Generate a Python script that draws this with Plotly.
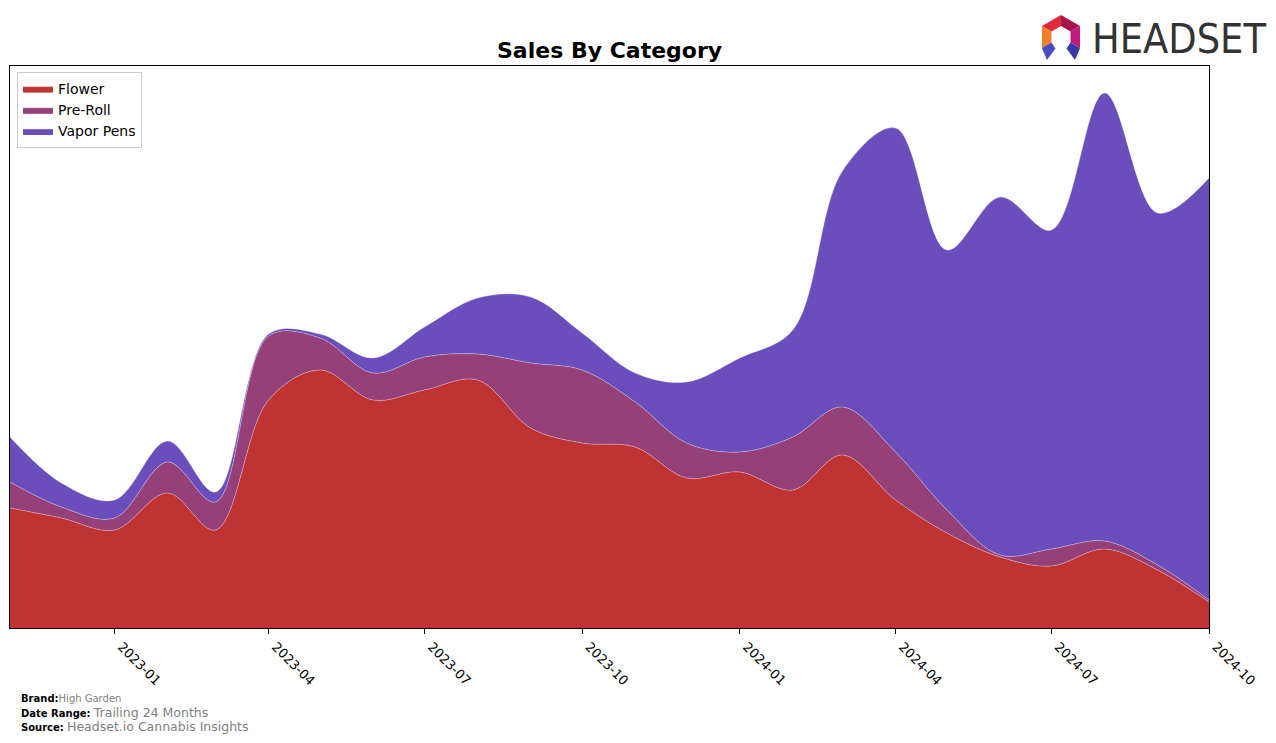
import plotly.graph_objects as go
import math

months = ["2022-11-01", "2022-12-01", "2023-01-01", "2023-02-01", "2023-03-01", "2023-04-01",
          "2023-05-01", "2023-06-01", "2023-07-01", "2023-08-01", "2023-09-01", "2023-10-01",
          "2023-11-01", "2023-12-01", "2024-01-01", "2024-02-01", "2024-03-01", "2024-04-01",
          "2024-05-01", "2024-06-01", "2024-07-01", "2024-08-01", "2024-09-01", "2024-10-01"]

flower = [120, 110, 98, 135, 98, 228, 258, 228, 238, 248, 200, 185,
          181, 150, 156, 138, 173, 128, 95, 71, 62, 79, 58, 26]
pre_roll = [26, 11, 12, 31, 28, 64, 32, 27, 33, 26, 65, 73,
            45, 35, 20, 53, 48, 48, 23, 2, 17, 8, 5, 2]
vapor_pens = [45, 24, 18, 21, 10, 2, 4, 15, 30, 56, 66, 37,
              29, 61, 94, 107, 236, 324, 260, 358, 319, 448, 352, 422]

tick_vals = ["2023-01-01", "2023-04-01", "2023-07-01", "2023-10-01",
             "2024-01-01", "2024-04-01", "2024-07-01", "2024-10-01"]
tick_text = ["2023-01", "2023-04", "2023-07", "2023-10",
             "2024-01", "2024-04", "2024-07", "2024-10"]

series = [("Flower", flower, "#C03333"),
          ("Pre-Roll", pre_roll, "#954078"),
          ("Vapor Pens", vapor_pens, "#6A4FBC")]

fig = go.Figure()
for name, vals, col in series:
    fig.add_trace(go.Scatter(
        x=months, y=vals, name=name, mode="lines", stackgroup="one",
        line=dict(shape="spline", smoothing=1.0, width=0.7, color="rgba(255,255,255,0.45)"),
        fillcolor=col,
    ))

W, H = 1276, 743
L, R, T, B = 10, 1209, 66, 628


def px(x, y):
    return (x - L) / (R - L), (B - y) / (B - T)


def poly(points, color):
    p = [px(a, b) for a, b in points]
    d = "M " + " L ".join(f"{a:.5f},{b:.5f}" for a, b in p) + " Z"
    return dict(type="path", xref="paper", yref="paper", path=d,
                fillcolor=color, line=dict(width=0), layer="above")


cx, cy, Ro, Ri = 1061, 37, 22, 11


def vtx(ang, r):
    a = math.radians(ang)
    return (cx + r * math.cos(a), cy - r * math.sin(a))


shapes = []
segs = [(90, 150, "#E02A3A"), (30, 90, "#A8134A"), (150, 210, "#F0802A"),
        (-30, 30, "#C01A7C")]
for a1, a2, c in segs:
    shapes.append(poly([vtx(a1, Ro), vtx(a2, Ro), vtx(a2, Ri), vtx(a1, Ri)], c))
bl_o, bl_i = vtx(210, Ro), vtx(210, Ri)
br_o, br_i = vtx(-30, Ro), vtx(-30, Ri)
shapes.append(poly([bl_o, bl_i, (bl_i[0] + 4, bl_i[1] + 6), (1047, 60)], "#4A4DC4"))
shapes.append(poly([br_o, br_i, (br_i[0] - 4, br_i[1] + 6), (1075, 60)], "#3A3AA4"))

annotations = [
    dict(text="<b>Sales By Category</b>", x=(L + R) / 2, y=51,
         font=dict(size=22, color="black", family="DejaVu Sans")),
    dict(text="HEADSET", x=1090, y=39,
         font=dict(size=41, color="#333333",
                   family="DejaVu Sans Condensed, Liberation Sans Narrow, Roboto, sans-serif")),
    dict(text="<b>Brand:</b><span style='color:#808080'>High Garden</span>", x=19, y=698,
         font=dict(size=10, color="black", family="DejaVu Sans")),
    dict(text="<b>Date Range:</b> <span style='color:#808080;font-size:12.5px'>Trailing 24 Months</span>",
         x=19, y=712, font=dict(size=10, color="black", family="DejaVu Sans")),
    dict(text="<b>Source:</b> <span style='color:#808080;font-size:12.5px'>Headset.io Cannabis Insights</span>",
         x=19, y=726, font=dict(size=10, color="black", family="DejaVu Sans")),
]
for i, a in enumerate(annotations):
    a["x"], a["y"] = px(a["x"], a["y"])
    a["xref"], a["yref"] = "paper", "paper"
    a["showarrow"] = False
    a["xanchor"] = "center" if i == 0 else "left"
    a["yanchor"] = "middle"

fig.update_layout(
    width=W, height=H,
    margin=dict(l=L, r=W - R, t=T, b=H - B, pad=0),
    paper_bgcolor="white", plot_bgcolor="white",
    font=dict(family="DejaVu Sans", size=13, color="black"),
    showlegend=True,
    legend=dict(x=px(17, 0)[0], y=px(0, 72)[1], xanchor="left", yanchor="top",
                bgcolor="white", bordercolor="#CCCCCC", borderwidth=1,
                font=dict(size=14), traceorder="normal", tracegroupgap=0),
    xaxis=dict(type="date", range=["2022-11-01", "2024-10-01"], tickvals=tick_vals,
               ticktext=tick_text, tickangle=45, ticks="outside", ticklen=5,
               tickcolor="black", showline=True, linecolor="black", linewidth=1,
               mirror=True, showgrid=False, zeroline=False, ticklabelshift=7,
               tickfont=dict(size=13, color="black")),
    yaxis=dict(range=[0, 562], showticklabels=False, ticks="", showline=True,
               linecolor="black", linewidth=1, mirror=True, showgrid=False, zeroline=False),
    shapes=shapes,
    annotations=annotations,
)

fig.write_html("out.html")
